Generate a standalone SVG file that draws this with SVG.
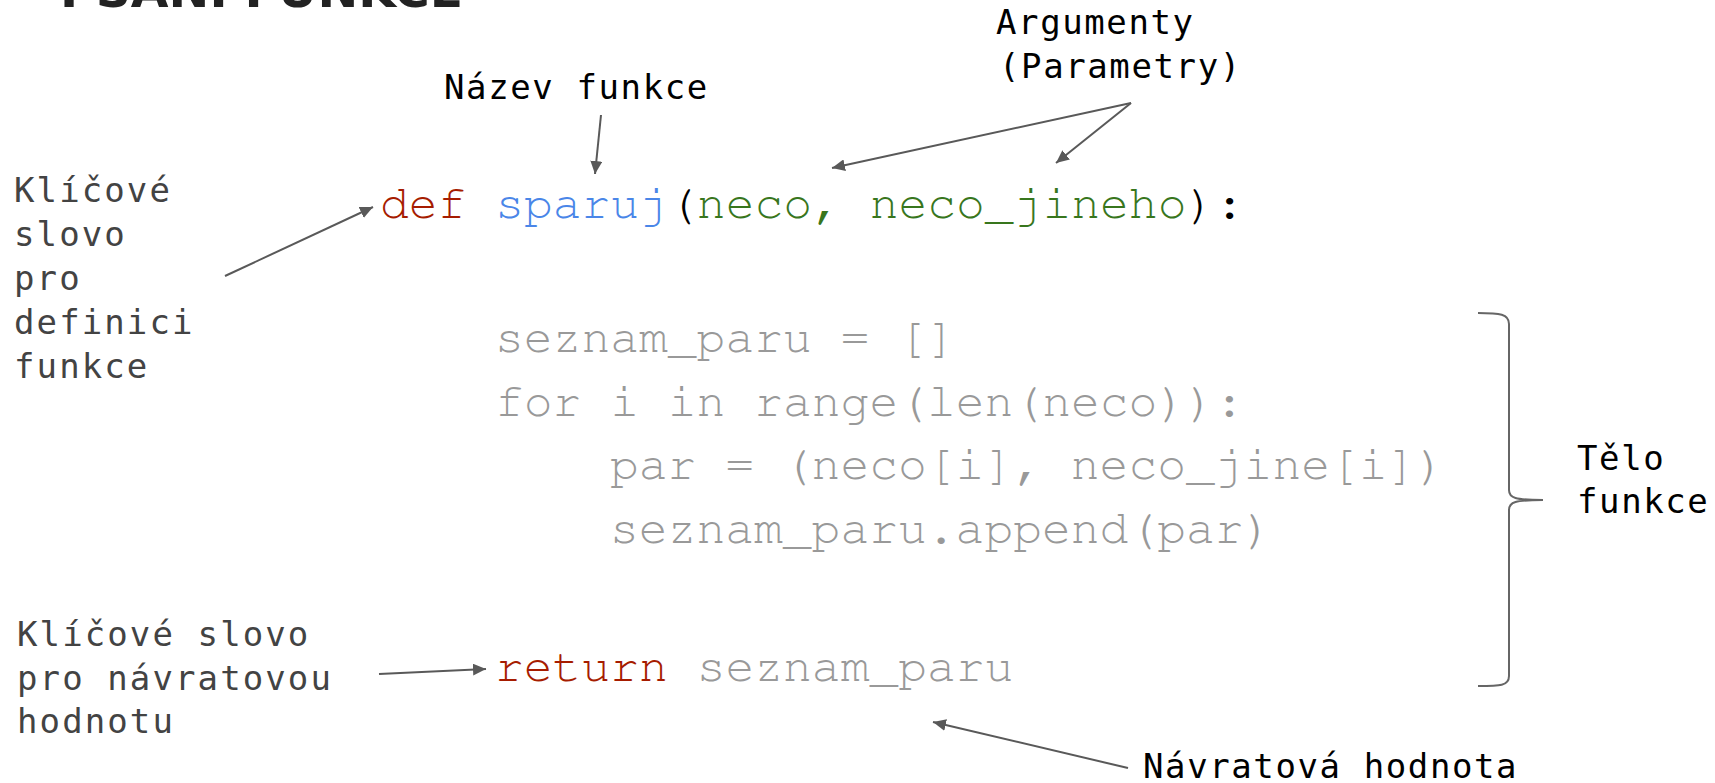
<svg xmlns="http://www.w3.org/2000/svg" width="1715" height="783" viewBox="0 0 1715 783">
  <defs>
    <style>
      .label { font-family: "DejaVu Sans Mono", "Liberation Mono", monospace; font-size: 34px; letter-spacing: 1.6px; fill: #000000; }
      .label.dim { fill: #434343; letter-spacing: 2.1px; }
      .code { font-family: "Nimbus Mono PS", "Nimbus Mono L", "FreeMono", "Liberation Mono", monospace; font-size: 48px; }
      .kw { fill: #a61c00; }
      .fn { fill: #4a86e8; }
      .arg { fill: #38761d; }
      .punct { fill: #000000; }
      .body { fill: #999999; }
      .title { font-family: "DejaVu Sans", "Liberation Sans", sans-serif; font-weight: bold; font-size: 48px; fill: #222222; }
      .conn { stroke: #595959; stroke-width: 2; fill: none; marker-end: url(#arrow); }
      .brace { stroke: #666666; stroke-width: 2; fill: none; }
    </style>
    <marker id="arrow" markerUnits="userSpaceOnUse" markerWidth="14" markerHeight="12" refX="13" refY="6" orient="auto">
      <path d="M0,0 L13,6 L0,12 Z" fill="#595959"/>
    </marker>
  </defs>

  <rect width="1715" height="783" fill="#ffffff"/>

  <!-- slide heading, mostly above the visible area -->
  <text class="title" x="60" y="7" textLength="403" lengthAdjust="spacingAndGlyphs">PSANÍ FUNKCE</text>

  <!-- function header -->
  <g id="header">
    <text class="code" x="380" y="218" xml:space="preserve"><tspan class="kw">def</tspan> <tspan class="fn">sparuj</tspan><tspan class="punct">(</tspan><tspan class="arg">neco, neco_jineho</tspan><tspan class="punct">):</tspan></text>
  </g>

  <!-- function body -->
  <g id="body">
    <text class="code body" x="495" y="352">seznam_paru = []</text>
    <text class="code body" x="495" y="416">for i in range(len(neco)):</text>
    <text class="code body" x="610" y="479">par = (neco[i], neco_jine[i])</text>
    <text class="code body" x="610" y="543">seznam_paru.append(par)</text>
    <text class="code" x="495" y="681" xml:space="preserve"><tspan class="kw">return</tspan> <tspan class="body">seznam_paru</tspan></text>
  </g>

  <!-- annotations -->
  <g id="label-nazev">
    <text class="label" x="444" y="99">Název funkce</text>
  </g>
  <g id="label-argumenty">
    <text class="label" x="996" y="34">Argumenty</text>
    <text class="label" x="999" y="78">(Parametry)</text>
  </g>
  <g id="label-def">
    <text class="label dim" x="14" y="202">Klíčové</text>
    <text class="label dim" x="14" y="246">slovo</text>
    <text class="label dim" x="14" y="290">pro</text>
    <text class="label dim" x="14" y="334">definici</text>
    <text class="label dim" x="14" y="378">funkce</text>
  </g>
  <g id="label-return">
    <text class="label dim" x="17" y="646">Klíčové slovo</text>
    <text class="label dim" x="17" y="690">pro návratovou</text>
    <text class="label dim" x="17" y="733">hodnotu</text>
  </g>
  <g id="label-telo">
    <text class="label" x="1577" y="470">Tělo</text>
    <text class="label" x="1577" y="513">funkce</text>
  </g>
  <g id="label-hodnota">
    <text class="label" x="1143" y="778">Návratová hodnota</text>
  </g>

  <!-- curly brace around the body -->
  <g id="brace-body">
    <path class="brace" d="M1478,313 C1500,313 1509,314 1509,324 L1509,490 C1509,498 1515,500 1543,500 C1515,500 1509,502 1509,510 L1509,676 C1509,686 1500,686 1478,686"/>
  </g>

  <!-- connectors -->
  <g id="connectors">
    <line class="conn" x1="601" y1="115" x2="595" y2="174"/>
    <line class="conn" x1="1131" y1="103" x2="832" y2="168"/>
    <line class="conn" x1="1131" y1="103" x2="1056" y2="163"/>
    <line class="conn" x1="225" y1="276" x2="373" y2="207"/>
    <line class="conn" x1="379" y1="674" x2="486" y2="669"/>
    <line class="conn" x1="1128" y1="768" x2="933" y2="722"/>
  </g>
</svg>
